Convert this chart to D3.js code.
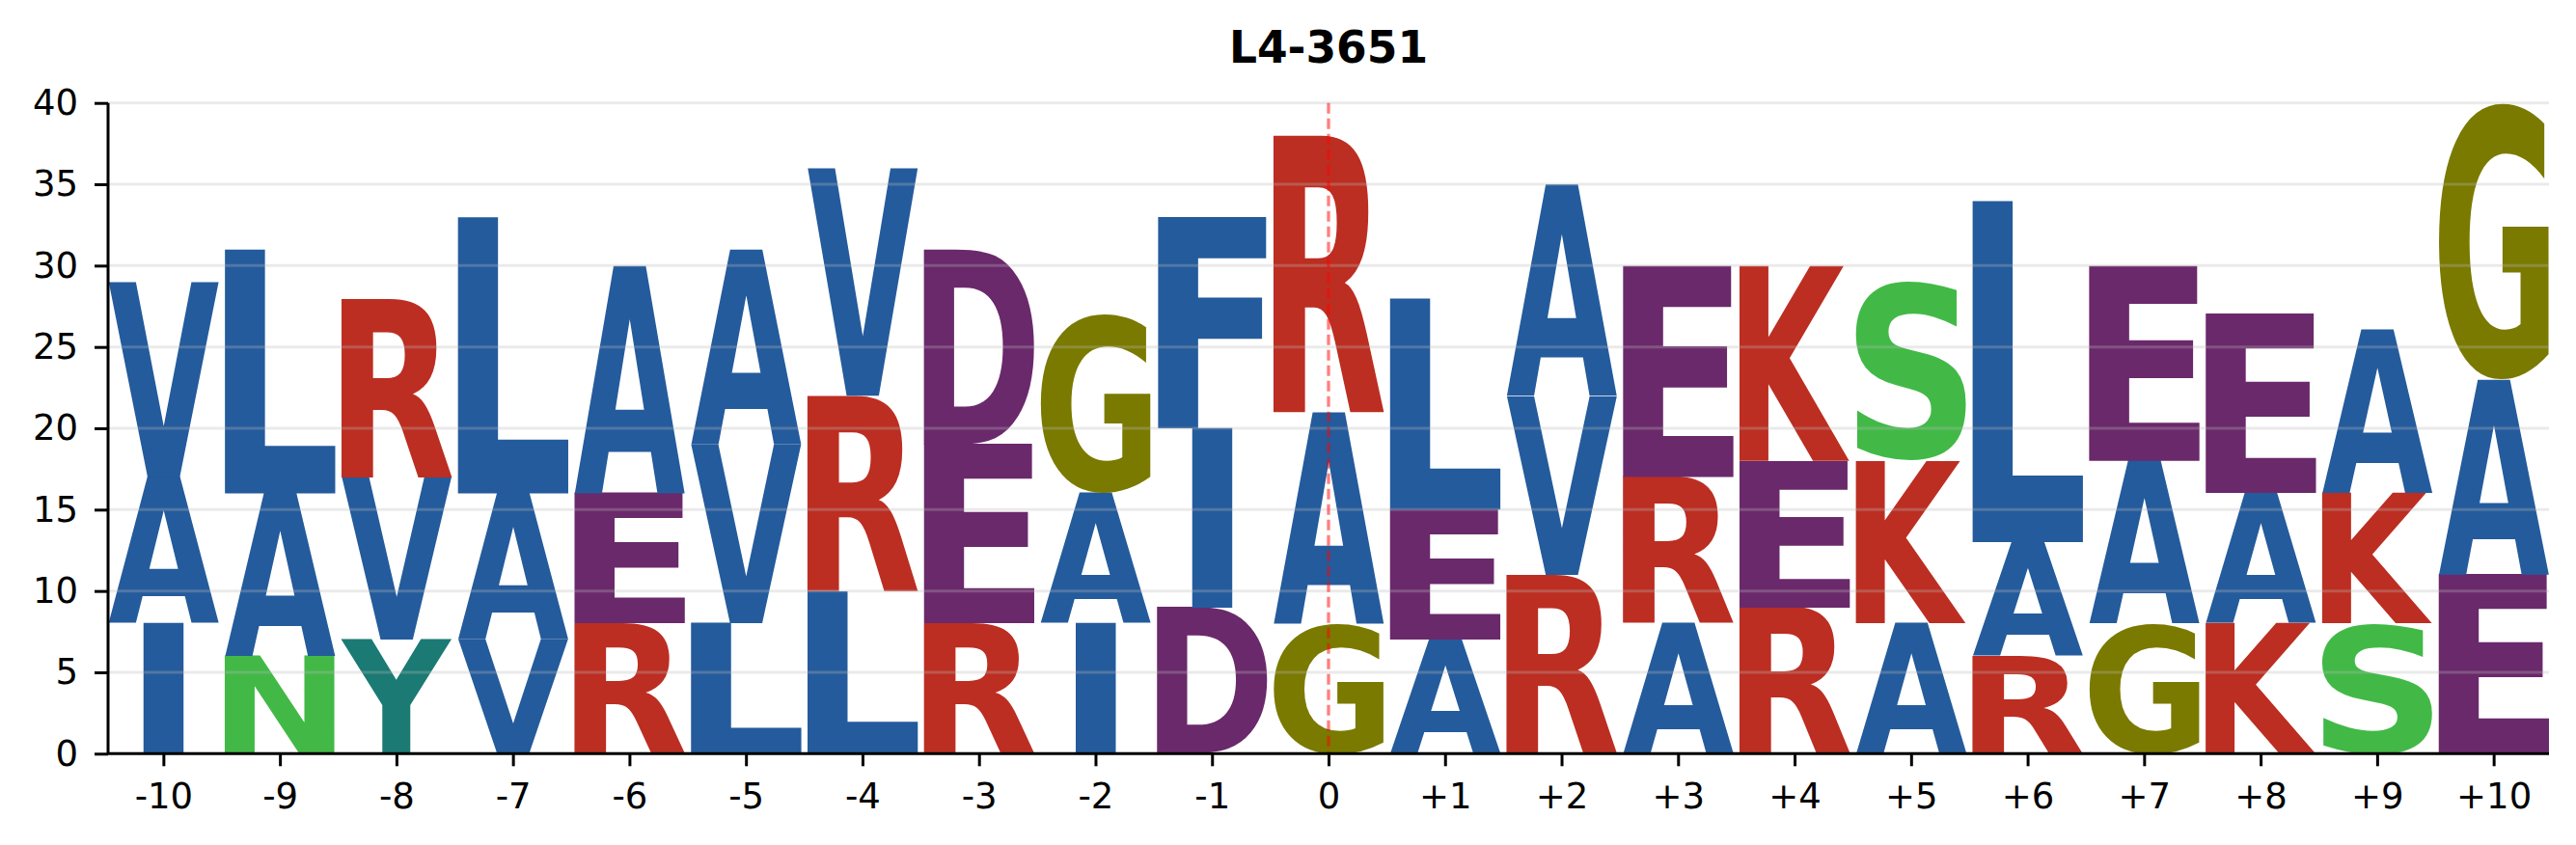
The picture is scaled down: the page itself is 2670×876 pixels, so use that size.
<!DOCTYPE html>
<html>
<head>
<meta charset="utf-8">
<script src="https://cdn.jsdelivr.net/npm/d3@7"></script>
<style>
  html, body { margin: 0; padding: 0; background: #fff; }
  svg { display: block; }
</style>
</head>
<body>
<svg id="chart" width="2670" height="876"></svg>
<script>
// ---- data ----
const positions = [-10,-9,-8,-7,-6,-5,-4,-3,-2,-1,0,1,2,3,4,5,6,7,8,9,10];
const tickLabels = ["-10","-9","-8","-7","-6","-5","-4","-3","-2","-1","0","+1","+2","+3","+4","+5","+6","+7","+8","+9","+10"];
// stacked from bottom (1) to top (3)
const letters1 = ["I","N","Y","V","R","L","L","R","I","D","G","A","R","A","R","A","R","G","K","S","E"];
const values1  = [8,6,7,7,8,8,10,8,8,9,8,7,11,8,9,8,6,8,8,8,11];
const letters2 = ["A","A","V","A","E","V","R","E","A","I","A","E","V","R","E","K","A","A","A","K","A"];
const values2  = [9,10,10,9,8,11,12,11,8,11,13,8,11,9,9,10,7,10,8,8,12];
const letters3 = ["V","L","R","L","A","A","V","D","G","F","R","L","A","E","K","S","L","E","E","A","G"];
const values3  = [12,15,11,17,14,12,14,12,11,13,17,13,13,13,12,11,21,12,11,10,17];
const yTicks = [0,5,10,15,20,25,30,35,40];
const chartTitle = "L4-3651";

const colors = {
  A:"#245B9C", V:"#245B9C", L:"#245B9C", I:"#245B9C", F:"#245B9C",
  R:"#BC2E22", K:"#BC2E22",
  E:"#6A296B", D:"#6A296B",
  G:"#7A7A00",
  S:"#42B947", N:"#42B947",
  Y:"#1B7A74"
};

// ---- layout ----
const svg = d3.select("#chart");
const mLeft = 112, mRight = 2642, mTop = 106.7, mBottom = 781.3;
const x = d3.scaleLinear().domain([-10.475, 10.475]).range([mLeft, mRight]);
const y = d3.scaleLinear().domain([0, 40]).range([mBottom, mTop]);
const band = x(1) - x(0);
const glyphW = band * 0.95;

// ---- glyph metrics via canvas ----
const FS = 200;
const FONT = "bold " + FS + "px 'DejaVu Sans'";
const ctx = document.createElement("canvas").getContext("2d");
ctx.font = FONT;
const metricsCache = {};
function metrics(ch) {
  if (!metricsCache[ch]) {
    const m = ctx.measureText(ch);
    metricsCache[ch] = {
      l: m.actualBoundingBoxLeft, r: m.actualBoundingBoxRight,
      a: m.actualBoundingBoxAscent, d: m.actualBoundingBoxDescent
    };
  }
  return metricsCache[ch];
}
const mE = metrics("E");
const eW = mE.l + mE.r;

// build stacked records
const glyphs = [];
positions.forEach((p, i) => {
  let base = 0;
  [[letters1, values1], [letters2, values2], [letters3, values3]].forEach(([L, V]) => {
    glyphs.push({ pos: p, ch: L[i], y0: base, y1: base + V[i] });
    base += V[i];
  });
});

const gGlyphs = svg.append("g");
glyphs.forEach(g => {
  const m = metrics(g.ch);
  const inkW = m.l + m.r, inkH = m.a + m.d;
  const sx = Math.min(glyphW / inkW, glyphW / eW);
  const yt = y(g.y1), yb = y(g.y0);
  const sy = (yb - yt) / inkH;
  const w = inkW * sx;
  const leftX = x(g.pos) - w / 2;
  const ox = leftX + m.l * sx;
  const oy = yt + m.a * sy;
  gGlyphs.append("text")
    .attr("transform", `translate(${ox},${oy}) scale(${sx},${sy})`)
    .attr("font-family", "'DejaVu Sans'")
    .attr("font-weight", "bold")
    .attr("font-size", FS)
    .attr("fill", colors[g.ch])
    .text(g.ch);
});

// grid lines (drawn over glyphs, translucent)
svg.append("g").selectAll("line").data(yTicks).join("line")
  .attr("x1", mLeft).attr("x2", mRight)
  .attr("y1", d => y(d)).attr("y2", d => y(d))
  .attr("stroke", "#bbbbbb").attr("stroke-opacity", 0.3).attr("stroke-width", 3);

// dashed reference line at 0
svg.append("line")
  .attr("x1", x(0)).attr("x2", x(0)).attr("y1", mTop).attr("y2", mBottom)
  .attr("stroke", "red").attr("stroke-opacity", 0.5)
  .attr("stroke-width", 3.3).attr("stroke-dasharray", "11,5");

// axes
const xAxis = d3.axisBottom(x).tickValues(positions).tickFormat((d, i) => tickLabels[i])
  .tickSize(13).tickPadding(17);
const gx = svg.append("g").attr("transform", `translate(0,${mBottom})`).call(xAxis);
gx.select(".domain").attr("d", `M${mLeft},0H${mRight}`).attr("stroke-width", 3).attr("stroke", "#000");
gx.selectAll(".tick line").attr("stroke-width", 3).attr("stroke", "#000");
gx.selectAll(".tick text").attr("font-family", "'DejaVu Sans'").attr("font-size", 37).attr("fill", "#000");

const yAxis = d3.axisLeft(y).tickValues(yTicks).tickSize(14).tickPadding(17);
const gy = svg.append("g").attr("transform", `translate(${mLeft},0)`).call(yAxis);
gy.select(".domain").attr("d", `M0,${mTop}V${mBottom}`).attr("stroke-width", 3).attr("stroke", "#000");
gy.selectAll(".tick line").attr("stroke-width", 3).attr("stroke", "#000");
gy.selectAll(".tick text").attr("font-family", "'DejaVu Sans'").attr("font-size", 37).attr("fill", "#000");

// title
svg.append("text")
  .attr("x", (mLeft + mRight) / 2).attr("y", 65)
  .attr("text-anchor", "middle")
  .attr("font-family", "'DejaVu Sans'").attr("font-weight", "bold").attr("font-size", 45.5)
  .attr("fill", "#000")
  .text(chartTitle);
</script>
</body>
</html>
